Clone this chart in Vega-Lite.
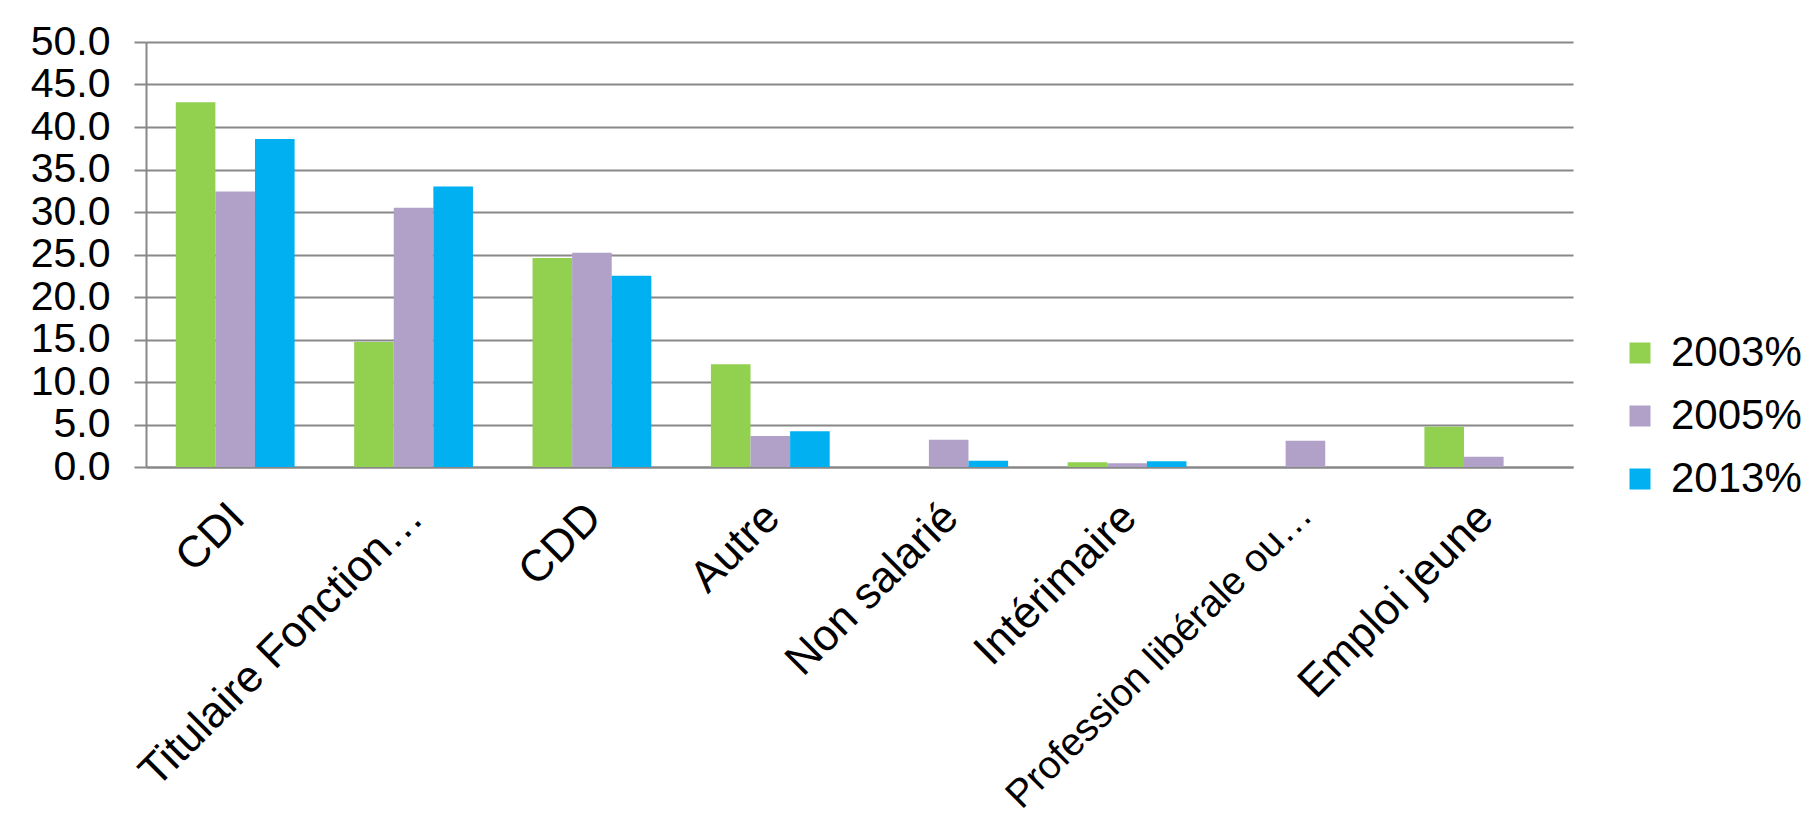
{
  "$schema": "https://vega.github.io/schema/vega-lite/v6.json",
  "autosize": {"type": "none"},
  "width": 1427,
  "height": 425,
  "padding": {"left": 146, "top": 42, "right": 241, "bottom": 365},
  "background": "white",
  "config": {
    "font": "Liberation Sans",
    "view": {"stroke": null}
  },
  "data": {
    "values": [
      {"cat": "CDI", "year": "2003%", "v": 42.9},
      {"cat": "CDI", "year": "2005%", "v": 32.4},
      {"cat": "CDI", "year": "2013%", "v": 38.6},
      {"cat": "Titulaire Fonction…", "year": "2003%", "v": 14.7},
      {"cat": "Titulaire Fonction…", "year": "2005%", "v": 30.5},
      {"cat": "Titulaire Fonction…", "year": "2013%", "v": 33.0},
      {"cat": "CDD", "year": "2003%", "v": 24.6},
      {"cat": "CDD", "year": "2005%", "v": 25.2},
      {"cat": "CDD", "year": "2013%", "v": 22.5},
      {"cat": "Autre", "year": "2003%", "v": 12.1},
      {"cat": "Autre", "year": "2005%", "v": 3.65},
      {"cat": "Autre", "year": "2013%", "v": 4.2},
      {"cat": "Non salarié", "year": "2005%", "v": 3.2},
      {"cat": "Non salarié", "year": "2013%", "v": 0.75},
      {"cat": "Intérimaire", "year": "2003%", "v": 0.55},
      {"cat": "Intérimaire", "year": "2005%", "v": 0.44},
      {"cat": "Intérimaire", "year": "2013%", "v": 0.67},
      {"cat": "Profession libérale ou…", "year": "2005%", "v": 3.1},
      {"cat": "Emploi jeune", "year": "2003%", "v": 4.75},
      {"cat": "Emploi jeune", "year": "2005%", "v": 1.2}
    ]
  },
  "mark": {"type": "bar"},
  "encoding": {
    "x": {
      "field": "cat",
      "type": "nominal",
      "sort": null,
      "title": null,
      "scale": {"paddingInner": 0.334, "paddingOuter": 0.167},
      "axis": {
        "labelAngle": -45,
        "labelAlign": "right",
        "labelBaseline": "top",
        "labelFontSize": {"condition": {"test": "datum.value === 'Profession libérale ou…'", "value": 39}, "value": 44},
        "labelColor": "black",
        "labelPadding": 28,
        "labelOffset": -13,
        "labelLimit": 0,
        "labelOverlap": false,
        "ticks": false,
        "domainColor": "#888888",
        "domainWidth": 2,
        "grid": false
      }
    },
    "xOffset": {
      "field": "year",
      "type": "nominal",
      "scale": {"domain": ["2003%", "2005%", "2013%"], "paddingInner": 0, "paddingOuter": 0}
    },
    "y": {
      "field": "v",
      "type": "quantitative",
      "title": null,
      "scale": {"domain": [0, 50], "nice": false},
      "axis": {
        "values": [0, 5, 10, 15, 20, 25, 30, 35, 40, 45, 50],
        "format": ".1f",
        "labelFontSize": 41,
        "labelColor": "black",
        "labelPadding": 24,
        "tickSize": 12,
        "tickColor": "#888888",
        "tickWidth": 2,
        "domainColor": "#888888",
        "domainWidth": 2,
        "gridColor": "#888888",
        "gridWidth": 2,
        "labelBaseline": "middle"
      }
    },
    "color": {
      "field": "year",
      "type": "nominal",
      "scale": {"domain": ["2003%", "2005%", "2013%"], "range": ["#92D050", "#B1A0C7", "#00B0F0"]},
      "legend": {
        "title": null,
        "orient": "none",
        "legendX": 1473,
        "legendY": 290,
        "symbolType": "square",
        "symbolSize": 441,
        "symbolStrokeWidth": 0,
        "labelFontSize": 42,
        "labelColor": "black",
        "labelOffset": 10,
        "rowPadding": 21,
        "labelLimit": 0
      }
    }
  }
}
